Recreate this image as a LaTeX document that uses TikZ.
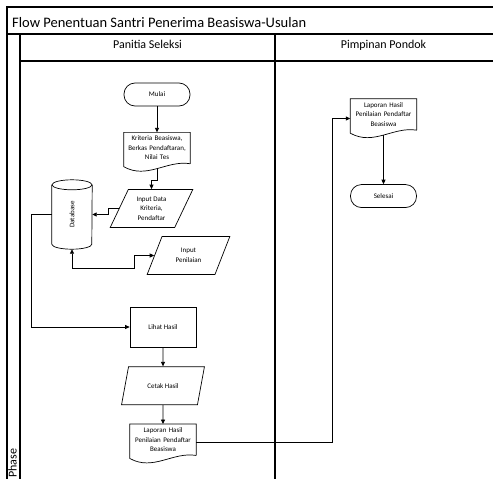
\documentclass[tikz,border=0pt]{standalone}
\usepackage{fontspec}
\setmainfont{Carlito}
\usetikzlibrary{shapes.geometric, arrows.meta, positioning, calc}

% dokumen dengan tepi bawah bergelombang
\newcommand{\docshape}[1]{%
  \draw[shapeline] (#1.south east) -- (#1.north east) -- (#1.north west)
    -- ([yshift=-3pt]#1.south west)
    .. controls ($(#1.south west)!0.35!(#1.south east)+(0pt,-16pt)$)
    and ($(#1.south west)!0.65!(#1.south east)+(0pt,4pt)$) .. (#1.south east);}
% tabung basis data
\newcommand{\dbshape}[1]{%
  \draw[shapeline] ([yshift=-5pt]#1.north) ellipse [x radius=20pt, y radius=5pt];
  \draw[shapeline] ([yshift=-5pt]#1.north west) -- ([yshift=5pt]#1.south west)
    arc [start angle=180, end angle=360, x radius=20pt, y radius=5pt]
    -- ([yshift=-5pt]#1.north east);}

\begin{document}
\begin{tikzpicture}[
    x=1pt, y=-1pt,
    node distance=19pt,
    lane/.style={draw=black, line width=1.2pt},
    shapeline/.style={draw=black, line width=0.7pt},
    nodefont/.style={font=\fontsize{7}{9.5}\selectfont, align=center},
    headfont/.style={font=\fontsize{12}{14}\selectfont, inner sep=0pt},
    term/.style={shapeline, nodefont, rectangle, rounded corners=11pt, minimum width=66pt, minimum height=23pt},
    proc/.style={shapeline, nodefont, rectangle, minimum width=66pt, minimum height=40pt},
    io/.style={shapeline, nodefont, trapezium, trapezium left angle=64, trapezium right angle=116, trapezium stretches=true, minimum width=83pt, minimum height=38pt, inner sep=1pt},
    docbox/.style={nodefont, rectangle, text width=64pt, minimum height=31pt, inner sep=1pt},
    dbbox/.style={nodefont, rectangle, minimum width=40pt, minimum height=69pt, inner sep=0pt},
    arrow/.style={draw, line width=0.8pt, -{Triangle[length=4.5pt, width=4pt]}},
    twoway/.style={arrow, {Triangle[length=4.5pt, width=4pt]}-{Triangle[length=4.5pt, width=4pt]}}
]
\useasboundingbox (0,0) rectangle (493,479);
\clip (0,0) rectangle (493,479);
% kolam dan lajur
\draw[lane] (7,7) rectangle (500,490);
\draw[lane] (7,34) -- (500,34);
\draw[lane] (20,34) -- (20,490);
\draw[lane] (20,61) -- (500,61);
\draw[lane] (275,34) -- (275,490);
\node[anchor=base west, font=\fontsize{14.5}{16}\selectfont, inner sep=0pt] (judul) at (12,27.3) {Flow Penentuan Santri Penerima Beasiswa-Usulan};
\node[headfont, anchor=base] (panitia) at (147.5,48.7) {Panitia Seleksi};
\node[headfont, anchor=base] (pimpinan) at (383.5,48.7) {Pimpinan Pondok};
\node[headfont, rotate=90, anchor=base west] (fase) at (16.5,478) {Phase};
% panitia seleksi
\node[term] (mulai) at (157,94.5) {Mulai};
\node[docbox, below=26pt of mulai] (kriteria) {Kriteria Beasiswa,\\ Berkas Pendaftaran,\\ Nilai Tes};
\docshape{kriteria}
\node[io] (inputdata) at (151.5,208.5) {Input Data\\ Kriteria,\\ Pendaftar};
\node[dbbox] (db) at (72,214.5) {\rotatebox{90}{Database}};
\dbshape{db}
\node[io] (inputnilai) at (188.5,255.5) {Input\\ Penilaian};
\node[proc] (lihat) at (163,327) {Lihat Hasil};
\node[io, below=of lihat] (cetak) {Cetak Hasil};
\node[docbox, below=of cetak] (laporan) {Laporan Hasil\\ Penilaian Pendaftar\\ Beasiswa};
\docshape{laporan}
% pimpinan pondok
\node[docbox] (laporanp) at (383.5,114.5) {Laporan Hasil\\ Penilaian Pendaftar\\ Beasiswa};
\docshape{laporanp}
\node[term, below=54pt of laporanp] (selesai) {Selesai};
% alur
\path[arrow] (mulai) -- (kriteria);
\path[arrow] ([yshift=-5pt]kriteria.south) -- ++(0pt,-12pt) -| (inputdata.north);
\path[arrow] (inputdata.left side) -- ++(-10pt,0pt) |- (db.east);
\path[arrow] (db.west) -- ++(-20pt,0pt) |- (lihat.west);
\path[twoway] (db.south) -- ++(0pt,-19pt) -| ([xshift=-20pt]inputnilai.left side) -- (inputnilai.left side);
\path[arrow] (lihat) -- (cetak);
\path[arrow] (cetak) -- (laporan);
\path[arrow] ([yshift=-3pt]laporan.east) -- ++(136pt,0pt) |- ([yshift=-4pt]laporanp.west);
\path[arrow] ([yshift=-5pt]laporanp.south) -- (selesai);
\end{tikzpicture}
\end{document}
